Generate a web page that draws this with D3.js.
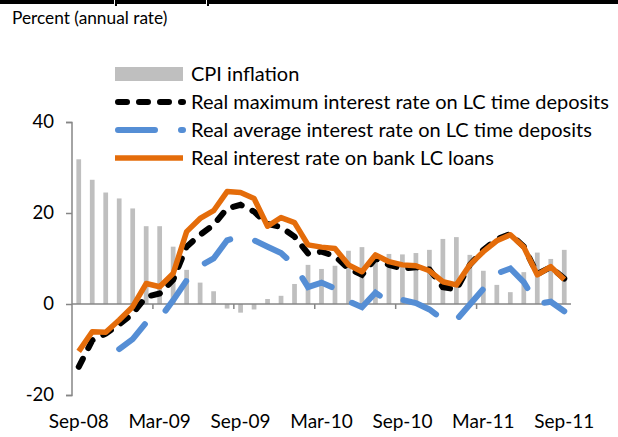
<!DOCTYPE html>
<html>
<head>
<meta charset="utf-8">
<script src="https://cdn.jsdelivr.net/npm/d3@7/dist/d3.min.js"></script>
<style>
  body { margin: 0; background: #fff; }
  svg text { font-family: Lato, "Open Sans", sans-serif; fill: #000; }
</style>
</head>
<body>
<svg id="chart" width="618" height="437"></svg>
<script>
// Monthly categories, Sep-08 .. Sep-11
const months = ["Sep-08","Oct-08","Nov-08","Dec-08","Jan-09","Feb-09","Mar-09","Apr-09","May-09","Jun-09",
  "Jul-09","Aug-09","Sep-09","Oct-09","Nov-09","Dec-09","Jan-10","Feb-10","Mar-10","Apr-10","May-10",
  "Jun-10","Jul-10","Aug-10","Sep-10","Oct-10","Nov-10","Dec-10","Jan-11","Feb-11","Mar-11","Apr-11",
  "May-11","Jun-11","Jul-11","Aug-11","Sep-11"];
const tickLabels = ["Sep-08","Mar-09","Sep-09","Mar-10","Sep-10","Mar-11","Sep-11"];
const yTicks = [-20, 0, 20, 40];

// CPI inflation (bars)
const cpi = [31.8,27.3,24.5,23.2,21.0,17.1,17.1,12.6,7.5,4.7,2.8,-1.0,-1.9,-1.2,1.1,1.8,4.4,8.6,7.7,8.4,
  11.7,12.5,10.0,11.0,10.9,11.2,11.9,14.3,14.7,10.8,7.3,4.2,2.6,7.0,11.3,9.9,11.9];
// Real maximum interest rate on LC time deposits
const maxDeposit = [-13.8,-8.0,-6.5,-4.5,-2.1,1.6,2.3,5.3,12.6,15.2,17.4,21.0,21.8,20.3,17.6,16.9,14.8,11.1,
  11.5,10.5,7.8,6.4,10.0,8.6,7.8,8.1,7.6,3.7,3.2,8.6,11.9,14.2,15.4,12.6,6.6,8.1,5.6];
// Real average interest rate on LC time deposits
const avgDeposit = [null,null,null,-9.9,-7.7,-4.1,-3.2,0.8,5.2,8.4,10.0,14.0,14.9,14.0,12.6,11.2,8.5,3.7,
  4.7,3.4,0.6,-0.7,2.5,0.4,0.9,0.2,-1.2,-3.4,-3.5,-0.1,3.3,6.7,7.8,4.8,0.0,0.5,-1.6];
// Real interest rate on bank LC loans
const loans = [-10.4,-6.1,-6.2,-3.5,-0.6,4.5,3.8,6.7,15.9,18.8,20.5,24.7,24.5,23.2,17.1,19.0,17.9,13.0,
  12.5,12.2,8.6,7.1,10.8,9.3,8.6,8.4,7.3,4.9,4.2,8.6,11.5,13.9,15.2,12.5,6.4,8.2,5.4];

const legendLabels = ["CPI inflation",
  "Real maximum interest rate on LC time deposits",
  "Real average interest rate on LC time deposits",
  "Real interest rate on bank LC loans"];

const COL = { bar: "#BFBFBF", max: "#000000", avg: "#558ED5", loan: "#E46C0A", axis: "#868686" };

const svg = d3.select("#chart");
svg.append("rect").attr("width", 618).attr("height", 437).attr("fill", "#fff");

// heavy rule along the top edge
svg.append("rect").attr("x", 0).attr("y", 0).attr("width", 618).attr("height", 4).attr("fill", "#000");
[115, 207].forEach(px => {
  svg.append("rect").attr("x", px - 1).attr("y", 0).attr("width", 1).attr("height", 4).attr("fill", "#fff");
  svg.append("rect").attr("x", px).attr("y", 0).attr("width", 2).attr("height", 6).attr("fill", "#000");
});

svg.append("text").attr("x", 12).attr("y", 24).style("font-size", "17.3px").text("Percent (annual rate)");

const x = d3.scaleBand().domain(months).range([72, 571]).paddingInner(0.65).paddingOuter(0.325);
const y = d3.scaleLinear().domain([-20, 40]).range([395, 122]);
const cx = m => x(m) + x.bandwidth() / 2;

// bars
svg.append("g").selectAll("rect").data(cpi).join("rect")
  .attr("x", (d, i) => x(months[i]))
  .attr("width", x.bandwidth())
  .attr("y", d => y(Math.max(0, d)))
  .attr("height", d => Math.abs(y(d) - y(0)))
  .attr("fill", COL.bar);

// axes
const yAxis = svg.append("g").attr("transform", "translate(72,0)")
  .call(d3.axisLeft(y).tickValues(yTicks).tickSize(6).tickPadding(12).tickFormat(d => String(d)));
yAxis.select(".domain").attr("stroke", COL.axis).attr("stroke-width", 1.5).attr("d", "M-6,122.5H0V395.5H-6");
yAxis.selectAll(".tick line").attr("stroke", COL.axis).attr("stroke-width", 1.5);
yAxis.selectAll(".tick text").style("font-size", "18.5px").style("font-family", "Lato, sans-serif").attr("fill", "#000");

const xAxisG = svg.append("g").attr("transform", `translate(0,${y(0)})`);
xAxisG.append("line").attr("x1", 72).attr("x2", 571).attr("stroke", COL.axis).attr("stroke-width", 1.5);
[6, 12, 18, 24, 30].forEach(k => {
  const px = x(months[k]) - x.step() * x.paddingInner() / 2;
  xAxisG.append("line").attr("x1", px).attr("x2", px).attr("y1", 0).attr("y2", 5)
    .attr("stroke", COL.axis).attr("stroke-width", 1.5);
});
svg.append("g").selectAll("text").data(tickLabels).join("text")
  .attr("x", d => cx(d)).attr("y", 428).attr("text-anchor", "middle")
  .style("font-size", "19px").text(d => d);

// lines
const line = d3.line().defined(d => d != null).x((d, i) => cx(months[i])).y(d => y(d));
svg.append("path").datum(maxDeposit).attr("d", line).attr("fill", "none")
  .attr("stroke", COL.max).attr("stroke-width", 6).attr("stroke-dasharray", "9 12").attr("stroke-linecap", "round");
svg.append("path").datum(avgDeposit).attr("d", line).attr("fill", "none")
  .attr("stroke", COL.avg).attr("stroke-width", 6).attr("stroke-dasharray", "36 26").attr("stroke-linecap", "round");
svg.append("path").datum(loans).attr("d", line).attr("fill", "none")
  .attr("stroke", COL.loan).attr("stroke-width", 5.5).attr("stroke-linejoin", "round");

// legend
const lg = svg.append("g");
const rows = [74, 102, 130, 158];
lg.append("rect").attr("x", 115).attr("y", rows[0] - 7).attr("width", 68).attr("height", 14).attr("fill", COL.bar);
lg.append("line").attr("x1", 118).attr("x2", 183).attr("y1", rows[1]).attr("y2", rows[1])
  .attr("stroke", COL.max).attr("stroke-width", 6).attr("stroke-dasharray", "9 12").attr("stroke-linecap", "round");
lg.append("line").attr("x1", 118).attr("x2", 183).attr("y1", rows[2]).attr("y2", rows[2])
  .attr("stroke", COL.avg).attr("stroke-width", 6).attr("stroke-dasharray", "37 26").attr("stroke-linecap", "round");
lg.append("line").attr("x1", 115).attr("x2", 183).attr("y1", rows[3]).attr("y2", rows[3])
  .attr("stroke", COL.loan).attr("stroke-width", 5.5);
lg.selectAll("text").data(legendLabels).join("text")
  .attr("x", 191).attr("y", (d, i) => rows[i] + 7)
  .style("font-size", "20px").text(d => d);
</script>
</body>
</html>
